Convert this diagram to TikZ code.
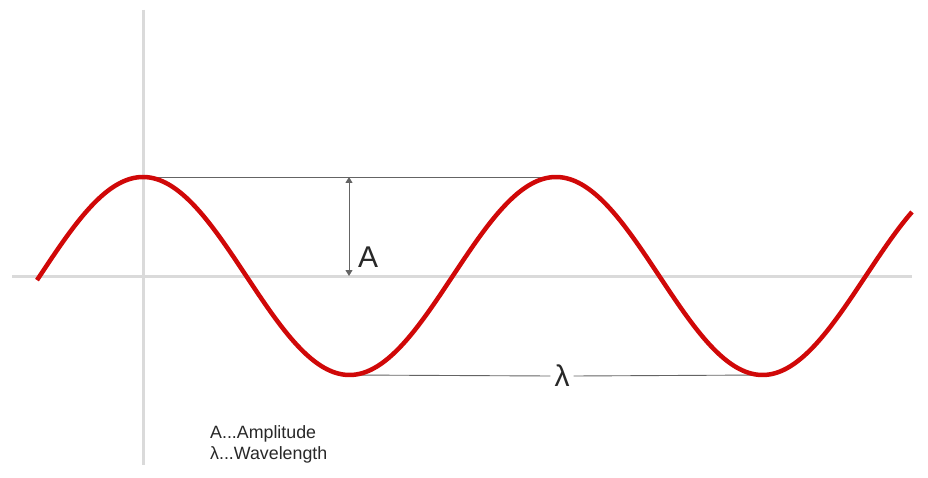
\documentclass[tikz,border=0pt]{standalone}
\usepackage{fontspec}
\setmainfont{Liberation Sans}
\usetikzlibrary{arrows.meta}
\definecolor{wavered}{RGB}{208,8,8}
\definecolor{axisgray}{RGB}{218,218,218}
\definecolor{guidegray}{RGB}{100,100,100}
\definecolor{txtgray}{RGB}{40,40,40}
\tikzset{
  axisline/.style={draw=axisgray, line width=3pt},
  waveline/.style={draw=wavered, line width=4.5pt},
  guideline/.style={draw=guidegray, line width=0.9pt},
  ampArrow/.style={draw=guidegray, line width=1pt, {Triangle[width=7pt,length=6pt]}-{Triangle[width=7pt,length=6pt]}},
  biglabel/.style={text=txtgray, font=\fontsize{30}{32}\selectfont, inner sep=0pt},
  legendtext/.style={text=txtgray, font=\fontsize{17.8}{21.5}\selectfont, align=left, inner sep=0pt, anchor=north west}
}
\begin{document}
\begin{tikzpicture}[x=1pt,y=-1pt]
\useasboundingbox[fill=white] (0,0) rectangle (928,478);
% axes
\coordinate (xl) at (12,276);
\coordinate (xr) at (912,276);
\coordinate (yt) at (143,10);
\coordinate (yb) at (143,465);
\draw[axisline] (xl) -- (xr);
\draw[axisline] (yt) -- (yb);
% key points
\coordinate (peakA) at (143,177);
\coordinate (peakB) at (556,177);
\coordinate (troughA) at (349.5,375);
\coordinate (troughB) at (762.5,375);
\coordinate (arrTop) at (349,177);
\coordinate (arrBot) at (349,276);
% guide lines
\draw[guideline] (peakA) -- (peakB);
\node[biglabel] (lam) at (562,376) {λ};
\draw[guideline] (troughA) -- ([xshift=-4pt]lam.west);
\draw[guideline] ([xshift=4pt]lam.east) -- (troughB);
% amplitude arrow
\draw[ampArrow] (arrTop) -- (arrBot);
\node[biglabel, anchor=west] (amp) at (358,257) {A};
% wave
\draw[waveline, line cap=butt] plot[domain=37:912, samples=300, smooth] (\x, {276-99*cos(0.871671*(\x-143))});
% legend
\node[legendtext] (legend) at (210,425) {A...Amplitude\\λ...Wavelength};
\end{tikzpicture}
\end{document}
